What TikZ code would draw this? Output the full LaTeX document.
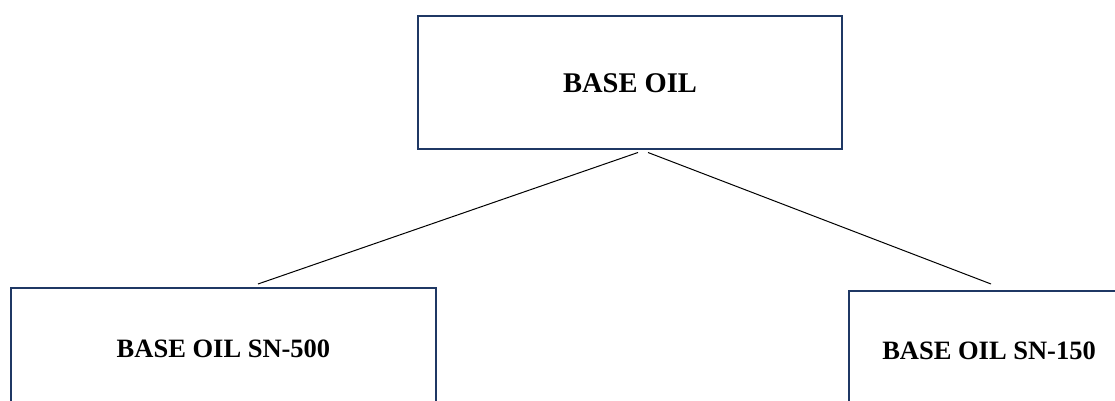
\documentclass[tikz,border=0pt]{standalone}
\usepackage{fontspec}
\setmainfont{Liberation Serif}
\definecolor{boxblue}{HTML}{1F3864}
\begin{document}
\begin{tikzpicture}[x=1pt,y=1pt,
  oilbox/.style={draw=boxblue, line width=2pt, rectangle, inner sep=0pt, align=center,
    font=\fontsize{26.5}{30}\selectfont\bfseries},
  link/.style={draw=black, line width=1pt}]
\useasboundingbox (0,0) rectangle (1115,401);
\clip (0,0) rectangle (1115,401);
\fill[white] (0,0) rectangle (1115,401);
\node[oilbox, minimum width=424pt, minimum height=133pt,
  font=\fontsize{28.5}{30}\selectfont\bfseries] (top) at (630,318) {BASE OIL};
\node[oilbox, minimum width=425pt, minimum height=121pt] (L) at (223.5,52.5) {BASE OIL SN-500};
\node[oilbox, minimum width=280pt, minimum height=119pt] (R) at (989,50.5) {BASE OIL SN-150};
\draw[link] ([xshift=8pt,yshift=-2pt]top.south) -- ([xshift=34.5pt,yshift=3pt]L.north);
\draw[link] ([xshift=18pt,yshift=-2pt]top.south) -- ([xshift=2pt,yshift=6pt]R.north);
\end{tikzpicture}
\end{document}
